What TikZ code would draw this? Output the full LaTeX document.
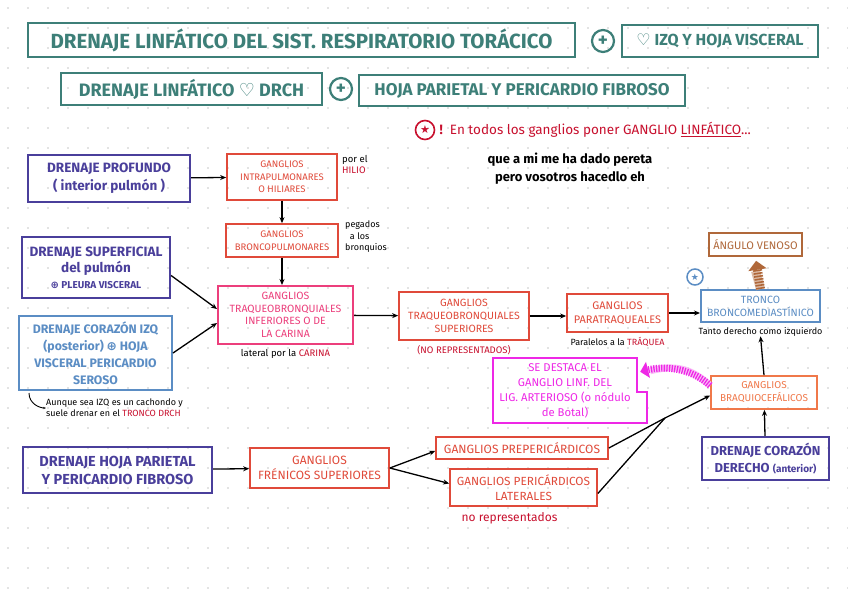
\documentclass[tikz,border=0pt]{standalone}
\usepackage{fontspec}
\setmainfont{Fira Sans}
\newfontfamily\symfont{DejaVu Sans}
\usetikzlibrary{arrows.meta,positioning,calc}
\definecolor{tealc}{HTML}{3D7F78}
\definecolor{purc}{HTML}{4A3F9B}
\definecolor{redc}{HTML}{E04A3A}
\definecolor{pinkc}{HTML}{EC3F7C}
\definecolor{bluec}{HTML}{5B8DC4}
\definecolor{orangec}{HTML}{F0784A}
\definecolor{brownc}{HTML}{B0683A}
\definecolor{magc}{HTML}{EE28E6}
\definecolor{noterc}{HTML}{C8102E}
\definecolor{dotc}{HTML}{C8C8C8}

\begin{document}
\begin{tikzpicture}[x=1pt,y=-1pt,
      tbox/.style={draw=tealc, text=tealc, line width=2.6pt, inner sep=0pt},
      pbox/.style={draw=purc, text=purc, line width=2.2pt, align=center, inner sep=0pt},
      lbbox/.style={draw=bluec, text=bluec, line width=2pt, align=center, inner sep=0pt},
      rbox/.style={draw=redc, text=redc, line width=1.7pt, align=center, inner sep=0pt},
      plus/.style={circle, draw=tealc, text=tealc, line width=2.2pt, minimum size=22pt, inner sep=0pt, font=\bfseries\fontsize{19}{19}\selectfont},
      arr/.style={-{Stealth[length=6pt,width=5pt]}, line width=1.3pt},
      note/.style={align=left, inner sep=0pt, font=\fontsize{9.5}{11.5}\selectfont},
    ]
      \useasboundingbox (0,0) rectangle (848,600);
      \fill[white] (0,0) rectangle (848,600);
      % dotted paper
      \foreach \gx in {8,28,...,848}
        \foreach \gy in {8,28,...,598}
          \fill[dotc] (\gx,\gy) circle (0.9);

      % titles
      \node[tbox, minimum width=547pt, minimum height=34pt, font=\bfseries\fontsize{20.5}{24}\selectfont] (title) at (301.5,40) {DRENAJE LINFÁTICO DEL SIST. RESPIRATORIO TORÁCICO};
      \node[plus] (plusa) at (603,41) {+};
      \node[tbox, minimum width=196pt, minimum height=32pt, font=\bfseries\fontsize{16}{18}\selectfont] (izq) at (720,41) {{\symfont ♡} IZQ Y HOJA VISCERAL};
      \node[tbox, minimum width=261pt, minimum height=32pt, font=\bfseries\fontsize{18}{20}\selectfont] (drch) at (191.5,89) {DRENAJE LINFÁTICO {\symfont ♡} DRCH};
      \node[plus] (plusb) at (341,89) {+};
      \node[tbox, minimum width=326pt, minimum height=31pt, font=\bfseries\fontsize{17}{19}\selectfont] (parietal) at (522,90.5) {HOJA PARIETAL Y PERICARDIO FIBROSO};

      % red reminder
      \node[circle, draw=noterc, text=noterc, line width=1.6pt, minimum size=19pt, inner sep=0pt, font=\symfont\fontsize{11}{11}\selectfont] (warn) at (425,130) {★};
      \node[right=4pt of warn, text=noterc, inner sep=0pt, font=\fontsize{13.5}{15}\selectfont] (warntext) {{\bfseries !}\ \ En todos los ganglios poner GANGLIO \underline{LINFÁTICO}...};
      \node[align=center, inner sep=0pt, font=\bfseries\fontsize{13}{18}\selectfont] (pereta) at (570,169) {que a mi me ha dado pereta\\pero vosotros hacedlo eh};

      % upper branch
      \node[pbox, minimum width=162pt, minimum height=47pt, font=\bfseries\fontsize{13.5}{18}\selectfont] (profundo) at (109,178.5) {DRENAJE PROFUNDO\\( interior pulmón )};
      \node[rbox, minimum width=110pt, minimum height=46pt, font=\fontsize{9.5}{12.5}\selectfont] (intrapulm) at (282,177) {GANGLIOS\\INTRAPULMONARES\\O HILIARES};
      \node[note, anchor=north west] (hilio) at (342,155) {por el\\\textcolor{noterc}{HILIO}};
      \node[rbox, minimum width=112pt, minimum height=33pt, font=\fontsize{9.5}{12.5}\selectfont] (bronco) at (282,240.5) {GANGLIOS\\BRONCOPULMONARES};
      \node[note, anchor=north west, font=\fontsize{9}{11.5}\selectfont] (pegados) at (345,221) {pegados\\\ \ a los\\bronquios};
      \node[draw=pinkc, text=pinkc, line width=2pt, align=center, inner sep=0pt, minimum width=135pt, minimum height=58pt, font=\fontsize{10.5}{12.5}\selectfont] (carina) at (285.5,315) {GANGLIOS\\TRAQUEOBRONQUIALES\\INFERIORES O DE\\LA CARINA};
      \node[note, below=4pt of carina] (lateral) {lateral por la \textcolor{noterc}{CARINA}};

      \node[pbox, minimum width=148pt, minimum height=61pt, font=\bfseries\fontsize{13.5}{16}\selectfont] (superficial) at (96,267.5) {DRENAJE SUPERFICIAL\\del pulmón\\{\fontsize{10}{16}\selectfont{\symfont ⊕} PLEURA VISCERAL}};
      \node[lbbox, minimum width=153pt, minimum height=74pt, font=\bfseries\fontsize{12.3}{17}\selectfont] (corazonizq) at (95.5,353) {DRENAJE CORAZÓN IZQ\\(posterior) {\symfont ⊕} HOJA\\VISCERAL PERICARDIO\\SEROSO};
      \node[note, anchor=west, font=\fontsize{9}{11}\selectfont] (aunque) at (46,408) {Aunque sea IZQ es un cachondo y\\suele drenar en el \textcolor{noterc}{TRONCO DRCH}};

      % central chain
      \node[rbox, minimum width=130pt, minimum height=48pt, font=\fontsize{10.5}{13}\selectfont] (traqsup) at (464,316) {GANGLIOS\\TRAQUEOBRONQUIALES\\SUPERIORES};
      \node[note, below=4pt of traqsup, text=noterc] (norep) {(NO REPRESENTADOS)};
      \node[rbox, minimum width=101pt, minimum height=38pt, font=\fontsize{11}{14}\selectfont] (paratraq) at (617.5,313) {GANGLIOS\\PARATRAQUEALES};
      \node[note, below=4pt of paratraq, font=\fontsize{9}{11}\selectfont] (paralelos) {Paralelos a la \textcolor{noterc}{TRÁQUEA}};
      \node[lbbox, minimum width=119pt, minimum height=32pt, font=\fontsize{10.5}{13}\selectfont] (tronco) at (760.5,306) {TRONCO\\BRONCOMEDIASTÍNICO};
      \node[note, below=4pt of tronco, font=\fontsize{9}{11}\selectfont] (tanto) {Tanto derecho como izquierdo};
      \node[circle, draw=bluec, text=bluec, line width=1.5pt, minimum size=16pt, inner sep=0pt, font=\symfont\fontsize{9}{9}\selectfont] (tstar) at (695,277) {★};
      \node[draw=brownc, text=brownc, line width=1.7pt, inner sep=0pt, minimum width=93pt, minimum height=23pt, font=\fontsize{11}{13}\selectfont] (angulo) at (755.5,244.5) {ÁNGULO VENOSO};

      % lower branch
      \node[draw=orangec, text=orangec, line width=1.7pt, align=center, inner sep=0pt, minimum width=106pt, minimum height=33pt, font=\fontsize{10}{13}\selectfont] (braquio) at (764,392.5) {GANGLIOS\\BRAQUIOCEFÁLICOS};
      \node[pbox, minimum width=127pt, minimum height=43pt, font=\bfseries\fontsize{13}{17}\selectfont] (corazondrch) at (765.5,458.5) {DRENAJE CORAZÓN\\DERECHO {\fontsize{10}{17}\selectfont(anterior)}};
      \node[text=magc, align=center, inner sep=0pt, minimum width=144pt, minimum height=65pt, font=\fontsize{11.3}{15}\selectfont] (destaca) at (565,390.5) {SE DESTACA EL\\GANGLIO LINF. DEL\\LIG. ARTERIOSO (o nódulo\\de Botal)};
      \draw[magc, line width=1.6pt] (destaca.north west) -- (destaca.north east) -- ++(0,34) -- ++(10,0) |- (destaca.south west) -- cycle;
      \coordinate (bubtip) at ($(destaca.north east)+(3,14)$);

      \node[pbox, minimum width=189pt, minimum height=46pt, font=\bfseries\fontsize{14.5}{18}\selectfont] (hojapar) at (117.5,470) {DRENAJE HOJA PARIETAL\\Y PERICARDIO FIBROSO};
      \node[rbox, minimum width=139pt, minimum height=40pt, font=\fontsize{12}{15}\selectfont] (frenicos) at (319.5,468) {GANGLIOS\\FRÉNICOS SUPERIORES};
      \node[rbox, minimum width=172pt, minimum height=22pt, font=\fontsize{12}{14}\selectfont] (preperi) at (522,448) {GANGLIOS PREPERICÁRDICOS};
      \node[rbox, minimum width=147pt, minimum height=37pt, font=\fontsize{11.8}{15}\selectfont] (laterales) at (523.5,487.5) {GANGLIOS PERICÁRDICOS\\LATERALES};
      \node[note, text=noterc, font=\fontsize{12}{13}\selectfont, below=5pt of laterales, xshift=-14pt] (norep2) {no representados};
      \coordinate (merge) at (665,418);

      % connectors
      \draw[arr] (profundo) -- (intrapulm);
      \draw[arr] (intrapulm) -- (bronco);
      \draw[arr] (bronco.south) -- (bronco.south |- carina.north);
      \draw[arr] ($(superficial.east)+(0,8)$) -- ($(carina.west)+(0,-6)$);
      \draw[arr] (corazonizq.east) -- ($(carina.west)+(0,8)$);
      \draw[line width=0.9pt, -{Stealth[length=3pt]}] ($(corazonizq.south west)+(11,2)$) .. controls +(0,11) and +(-6,0) .. (aunque.west);
      \draw[arr] (carina) -- (traqsup);
      \draw[arr] (traqsup.east) -- (traqsup.east -| paratraq.west);
      \draw[arr] (paratraq.east) -- (paratraq.east -| tronco.west);
      \draw[brownc!45, line width=9pt] (tronco.north) -- ($(angulo.south)+(0,14)$);
      \draw[brownc, line width=9pt, dash pattern=on 1.6pt off 1.4pt, -{Triangle[length=9pt,width=18pt]}, shorten >=4pt] (tronco.north) -- (angulo.south);
      \draw[arr] (braquio.north) -- (tanto.south);
      \draw[arr] (corazondrch) -- (braquio);
      \draw[magc!30, line width=7pt] ($(braquio.west)+(0,-7)$) .. controls +(-20,-18) and +(24,-6) .. ($(bubtip)+(10,-1)$);
      \draw[magc, line width=7pt, dash pattern=on 1.3pt off 1.3pt, -{Triangle[length=8pt,width=16pt]}] ($(braquio.west)+(0,-7)$) .. controls +(-20,-18) and +(24,-6) .. (bubtip);
      \draw[arr] (hojapar) -- (frenicos);
      \draw[arr] (frenicos.east) -- ($(preperi.west)+(0,3)$);
      \draw[arr] (frenicos.east) -- ($(laterales.west)+(0,-4)$);
      \draw[line width=1.3pt] (preperi.east) -- (merge);
      \draw[line width=1.3pt] ($(laterales.east)+(0,6)$) -- (merge);
      \draw[arr] (merge) -- ($(braquio.west)+(0,3)$);
    \end{tikzpicture}
\end{document}
